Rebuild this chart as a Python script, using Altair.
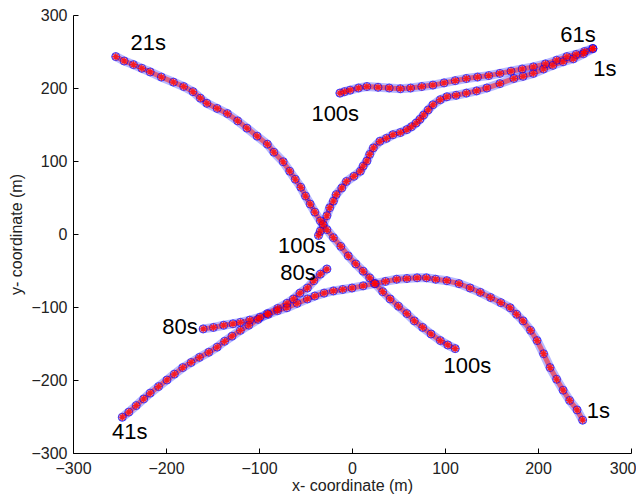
import altair as alt
import pandas as pd

# ---- track readings (x, y in metres) ----
c1_x = [-254, -245, -235, -226, -217, -205, -192, -181, -171, -163, -156, -145, -134, -123, -113, -102, -91, -84, -74, -67, -61, -55, -50, -45, -40, -34, -27, -20, -12, -4, 4, 12, 19, 25, 33, 41, 50, 59, 67, 76, 85, 95, 103, 111]
c1_y = [243, 237, 232, 227, 222, 215, 208, 202, 195, 186, 179, 172, 165, 155, 145, 134, 123, 112, 99, 86, 75, 64, 52, 41, 30, 18, 6, -5, -17, -30, -41, -51, -60, -68, -79, -89, -99, -109, -119, -128, -137, -146, -152, -157]

c2_x = [259, 249, 238, 227, 216, 206, 195, 184, 174, 159, 145, 134, 123, 112, 102, 95, 87, 82, 77, 73, 69, 64, 59, 52, 44, 37, 30, 23, 19, 16, 12, 9, 2, -6, -11, -17, -20, -24, -27, -31, -34, -36]
c2_y = [254, 247, 240, 236, 231, 226, 220, 216, 213, 206, 200, 196, 193, 190, 188, 184, 177, 170, 163, 157, 152, 147, 143, 139, 136, 131, 127, 118, 109, 100, 93, 86, 79, 72, 63, 54, 45, 36, 25, 13, 4, -2]

c3_x = [259, 250, 241, 231, 220, 208, 195, 183, 171, 159, 147, 135, 123, 111, 99, 87, 75, 63, 52, 40, 28, 16, 7, -2, -8, -13]
c3_y = [254, 250, 246, 243, 238, 233, 229, 226, 223, 220, 217, 215, 213, 210, 207, 204, 202, 200, 199, 200, 201, 202, 200, 197, 195, 193]

c4_x = [-247, -240, -232, -224, -217, -208, -199, -191, -182, -173, -164, -154, -145, -137, -129, -120, -111, -101, -91, -80, -70, -63, -56, -48, -41, -34, -27]
c4_y = [-251, -244, -235, -226, -218, -209, -200, -192, -183, -176, -169, -162, -155, -147, -140, -132, -125, -117, -109, -102, -95, -89, -81, -74, -64, -55, -48]

c5_x = [248, 242, 234, 227, 220, 213, 206, 199, 192, 184, 177, 170, 160, 149, 138, 127, 115, 102, 90, 80, 70, 59, 48, 36, 24, 12, 0, -10, -20, -30, -40, -48, -59, -70, -80, -90, -99, -110, -120, -128, -138, -149, -160]
c5_y = [-255, -241, -228, -214, -199, -183, -164, -146, -132, -119, -110, -101, -94, -87, -80, -74, -68, -64, -62, -60, -60, -61, -62, -65, -68, -71, -74, -76, -78, -81, -85, -89, -95, -101, -105, -110, -114, -118, -121, -123, -125, -128, -130]

# ---- time annotations ----
label_text = ["21s", "61s", "1s", "100s", "100s", "80s", "80s", "100s", "1s", "41s"]
label_x = [-219, 243, 272, -18, -54, -58, -185, 124, 265, -239]
label_y = [261, 273, 226, 165, -16, -53, -128, -181, -243, -271]

tick_values = [-300, -200, -100, 0, 100, 200, 300]

rows = []
for name, xs, ys in [("c1", c1_x, c1_y), ("c2", c2_x, c2_y), ("c3", c3_x, c3_y),
                     ("c4", c4_x, c4_y), ("c5", c5_x, c5_y)]:
    for i, (xv, yv) in enumerate(zip(xs, ys)):
        rows.append({"track": name, "order": i, "x": xv, "y": yv})
df = pd.DataFrame(rows)
labels = pd.DataFrame({"label": label_text, "x": label_x, "y": label_y})

FONT = "Liberation Sans"
xscale = alt.Scale(domain=[-300, 300], nice=False, zero=False)
yscale = alt.Scale(domain=[-300, 300], nice=False, zero=False)

xaxis = alt.Axis(values=tick_values, title="x- coordinate (m)", ticks=False, tickSize=0,
                 grid=False, domainColor="black", labelFont=FONT, labelFontSize=16,
                 labelColor="#222222", labelPadding=7, titleFont=FONT, titleFontSize=16,
                 titleFontWeight="normal", titleColor="#222222", titlePadding=1,
                 labelFlush=False,
                 labelAlign={"condition": {"test": "datum.value == 300", "value": "right"},
                             "value": "center"},
                 labelOffset={"condition": {"test": "datum.value == 300", "value": 5},
                              "value": 0})
yaxis = alt.Axis(values=tick_values, title="y- coordinate (m)", ticks=False, tickSize=0,
                 grid=False, domainColor="black", labelFont=FONT, labelFontSize=16,
                 labelColor="#222222", labelPadding=6, titleFont=FONT, titleFontSize=16,
                 titleFontWeight="normal", titleColor="#222222", titlePadding=6,
                 labelFlush=False)

X = alt.X("x:Q", scale=xscale, axis=xaxis)
Y = alt.Y("y:Q", scale=yscale, axis=yaxis)

base = alt.Chart(df)
band_blue = base.mark_line(strokeWidth=9, opacity=0.35, color="#3030ff",
                           strokeCap="round").encode(
    x=X, y=Y, detail="track:N", order="order:Q")
band_red = base.mark_line(strokeWidth=5, opacity=0.6, color="#ff2020",
                          strokeCap="round").encode(
    x=X, y=Y, detail="track:N", order="order:Q")
circles = base.mark_point(shape="circle", filled=False, color="#0000ff", size=64,
                          strokeWidth=1).encode(x=X, y=Y)
asterisk = "M-1,0L1,0M0,-1L0,1M-0.7,-0.7L0.7,0.7M-0.7,0.7L0.7,-0.7"
stars = base.mark_point(shape=asterisk, filled=False, color="#ff0000", size=60,
                        strokeWidth=1.2).encode(x=X, y=Y)
texts = alt.Chart(labels).mark_text(font=FONT, fontSize=22, color="black",
                                    align="center", baseline="middle").encode(
    x=X, y=Y, text="label:N")

main = alt.layer(band_blue, band_red, circles, stars, texts)

tick_x = alt.Axis(values=tick_values, orient="bottom", offset=-5, tickSize=5, ticks=True,
                  tickColor="black", labels=False, domain=False, grid=False, title=None)
tick_y = alt.Axis(values=tick_values, orient="left", offset=-5, tickSize=5, ticks=True,
                  tickColor="black", labels=False, domain=False, grid=False, title=None)
tick_layer = alt.Chart(labels).mark_point(opacity=0).encode(
    x=alt.X("x:Q", scale=xscale, axis=tick_x),
    y=alt.Y("y:Q", scale=yscale, axis=tick_y))

chart = alt.layer(main, tick_layer).resolve_axis(x="independent", y="independent").properties(
    width=558, height=438,
    autosize=alt.AutoSizeParams(type="none"),
    padding={"left": 65, "top": 7, "right": 5, "bottom": 43},
    background="white",
).configure_view(stroke=None)

chart.save("out.html", embed_options={"renderer": "svg", "actions": False})
